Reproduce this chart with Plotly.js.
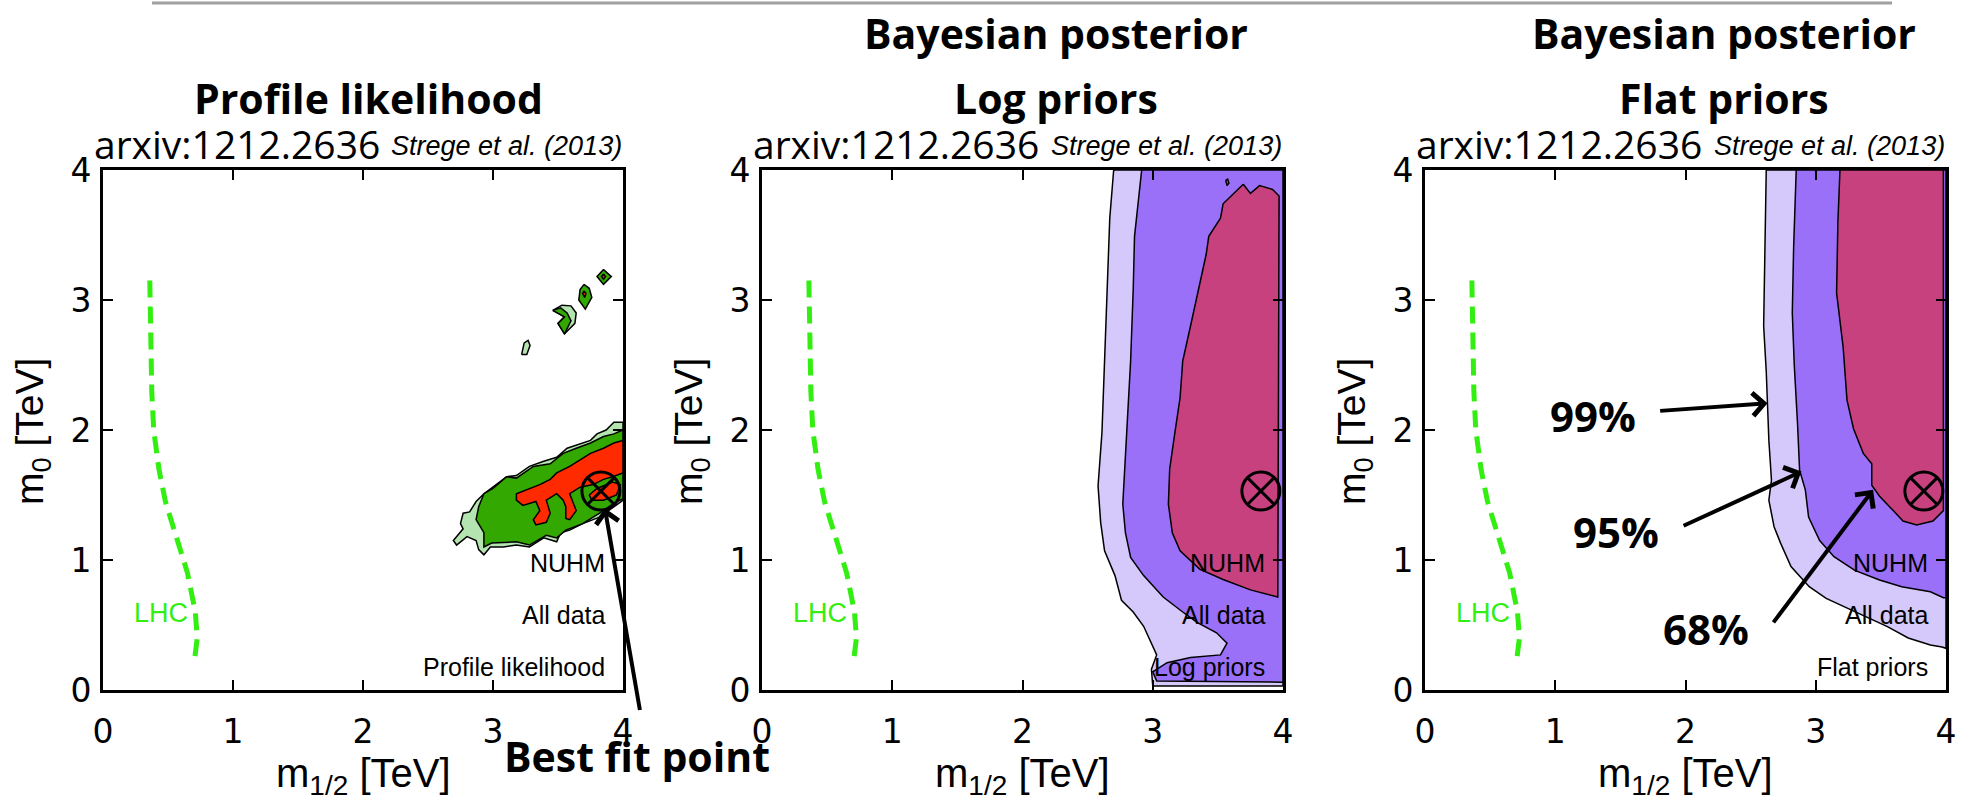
<!DOCTYPE html>
<html><head><meta charset="utf-8">
<script src="https://cdn.plot.ly/plotly-3.0.1.min.js"></script>
<style>html,body{margin:0;padding:0;background:#fff;}#chart{width:1973px;height:806px;}</style>
</head><body><div id="chart"></div>
<script>
// ---------- data ----------
const tickVals = [0, 1, 2, 3, 4];
const tickText = ['0', '1', '2', '3', '4'];

const lhcX = [0.36, 0.365, 0.375, 0.39, 0.43, 0.48, 0.56, 0.65, 0.71, 0.725, 0.70];
const lhcY = [3.15, 2.7, 2.3, 2.0, 1.7, 1.45, 1.2, 0.9, 0.6, 0.4, 0.2];

const bestFitX = [3.83];
const bestFitY = [1.53];

// Panel 1 : profile likelihood
const p1_99_x = [4.0,3.93,3.87,3.80,3.75,3.64,3.57,3.49,3.39,3.28,3.18,3.105,3.0,2.93,2.87,2.82,2.77,2.75,2.77,2.695,2.72,2.80,2.87,2.89,2.93,2.98,3.08,3.18,3.28,3.39,3.49,3.52,3.59,3.69,3.82,3.93,4.0];
const p1_99_y = [2.06,2.06,2.0,1.97,1.92,1.88,1.86,1.79,1.76,1.72,1.65,1.64,1.56,1.51,1.45,1.37,1.36,1.28,1.24,1.15,1.115,1.18,1.15,1.08,1.04,1.10,1.10,1.115,1.10,1.17,1.14,1.21,1.23,1.28,1.33,1.41,1.46];
const p1_95_x = [4.0,3.93,3.85,3.75,3.64,3.54,3.44,3.31,3.18,3.105,3.0,2.93,2.89,2.87,2.93,2.93,2.99,3.18,3.28,3.41,3.49,3.56,3.69,3.82,3.95,4.0];
const p1_95_y = [2.0,1.97,1.95,1.90,1.86,1.82,1.74,1.72,1.63,1.64,1.55,1.51,1.41,1.31,1.21,1.10,1.13,1.14,1.115,1.19,1.17,1.23,1.28,1.36,1.45,1.47];
const p1_68_x = [4.0,3.93,3.85,3.75,3.67,3.59,3.49,3.44,3.36,3.26,3.18,3.18,3.23,3.33,3.36,3.31,3.33,3.41,3.44,3.41,3.49,3.54,3.56,3.56,3.59,3.64,3.59,3.67,3.77,3.85,3.92,4.0];
const p1_68_y = [1.92,1.90,1.86,1.82,1.77,1.72,1.67,1.62,1.58,1.54,1.51,1.46,1.42,1.45,1.38,1.31,1.27,1.29,1.36,1.46,1.51,1.46,1.41,1.32,1.31,1.38,1.51,1.56,1.58,1.62,1.64,1.67];
const p1_68b_x = [3.74,3.80,3.92,3.98,3.95,3.85,3.76];
const p1_68b_y = [1.50,1.55,1.60,1.58,1.50,1.46,1.46];
const p1_islA_x = [3.22,3.24,3.27,3.285,3.26];
const p1_islA_y = [2.58,2.67,2.69,2.65,2.58];
const p1_chevL_x = [3.46,3.53,3.60,3.64,3.63,3.55,3.50,3.55];
const p1_chevL_y = [2.92,2.96,2.955,2.90,2.82,2.74,2.82,2.87];
const p1_chevG_x = [3.46,3.52,3.57,3.60,3.55,3.50,3.55];
const p1_chevG_y = [2.92,2.94,2.90,2.84,2.74,2.82,2.87];
const p1_dia1_x = [3.70,3.74,3.76,3.71,3.66,3.67];
const p1_dia1_y = [3.12,3.09,3.02,2.93,3.00,3.08];
const p1_dia1r_x = [3.70,3.715,3.705,3.69];
const p1_dia1r_y = [3.07,3.05,3.02,3.05];
const p1_dia2_x = [3.85,3.91,3.85,3.80];
const p1_dia2_y = [3.235,3.18,3.12,3.18];
const p1_dia2r_x = [3.85,3.865,3.85,3.835];
const p1_dia2r_y = [3.20,3.18,3.16,3.18];

// Panel 2 : Bayesian posterior, log priors
const p2_99_x = [2.70,2.67,2.65,2.63,2.61,2.58,2.60,2.63,2.71,2.76,2.85,2.93,2.98,3.03,2.99,3.00,4.0,4.0];
const p2_99_y = [4.0,3.63,3.08,2.53,1.98,1.57,1.29,1.07,0.88,0.69,0.60,0.49,0.38,0.27,0.16,0.03,0.03,4.0];
const p2_95_x = [2.915,2.90,2.86,2.85,2.83,2.80,2.77,2.79,2.83,2.93,3.08,3.23,3.34,3.49,3.57,3.52,3.29,3.11,3.00,3.03,4.0,4.0];
const p2_95_y = [4.0,3.85,3.49,3.08,2.53,1.98,1.43,1.21,1.02,0.88,0.715,0.60,0.52,0.44,0.36,0.27,0.25,0.21,0.14,0.07,0.06,4.0];
const p2_68_x = [3.695,3.62,3.54,3.52,3.465,3.43,3.41,3.36,3.29,3.23,3.21,3.17,3.13,3.12,3.15,3.21,3.36,3.54,3.75,3.96,3.97,3.92,3.82,3.75];
const p2_68_y = [3.89,3.82,3.74,3.63,3.55,3.49,3.35,3.13,2.80,2.53,2.25,1.98,1.70,1.43,1.21,1.07,0.93,0.85,0.77,0.715,3.80,3.85,3.88,3.82];
const p2_dot_x = [3.56,3.575,3.585,3.57];
const p2_dot_y = [3.92,3.93,3.90,3.88];

// Panel 3 : Bayesian posterior, flat priors
const p3_99_x = [2.62,2.61,2.60,2.62,2.63,2.64,2.66,2.64,2.68,2.73,2.81,2.95,3.08,3.22,3.38,3.55,3.71,3.88,3.97,4.0,4.0];
const p3_99_y = [4.0,3.4,2.8,2.45,2.205,1.92,1.615,1.46,1.256,1.13,0.95,0.795,0.705,0.64,0.564,0.487,0.40,0.346,0.33,0.32,4.0];
const p3_95_x = [2.85,2.83,2.82,2.835,2.86,2.876,2.92,2.945,3.03,3.14,3.30,3.49,3.66,3.88,3.98,4.0,4.0];
const p3_95_y = [4.0,3.4,2.9,2.5,2.05,1.69,1.54,1.33,1.15,1.025,0.92,0.846,0.795,0.756,0.71,0.71,4.0];
const p3_68_x = [3.186,3.17,3.16,3.21,3.24,3.29,3.365,3.43,3.43,3.49,3.595,3.67,3.775,3.90,3.98,3.98];
const p3_68_y = [4.0,3.60,3.055,2.64,2.23,2.01,1.82,1.74,1.575,1.49,1.38,1.30,1.27,1.30,1.38,4.0];

const panelTitles = [['Profile likelihood'], ['Bayesian posterior', 'Log priors'], ['Bayesian posterior', 'Flat priors']];
const innerLabels = [['NUHM', 'All data', 'Profile likelihood'], ['NUHM', 'All data', 'Log priors'], ['NUHM', 'All data', 'Flat priors']];
const innerLabelY = [0.98, 0.58, 0.18];
const levelText = ['99%', '95%', '68%'];
const levelTextX = [1.29, 1.47, 2.16];
const levelTextY = [2.11, 1.22, 0.47];
const levelTailX = [1.79, 1.97, 2.66];
const levelTailY = [2.146, 1.256, 0.50];
const levelTipX = [2.63, 2.89, 3.44];
const levelTipY = [2.205, 1.68, 1.54];
const bestArrowTip = [3.86, 1.40];
const bestArrowTail = [4.134, -0.177];

// ---------- styling ----------
const C_LG = '#b4e4b0', C_G = '#33a800', C_R = '#ff2a00';
const C_L99 = '#d5c9fb', C_L95 = '#9a70f8', C_L68 = '#c8417f';
const C_LHC = '#33ee11';
const W = 1973, H = 806;
const px = v => v / W, py = v => 1 - v / H;
const panels = [{l: 103, r: 623}, {l: 762, r: 1283}, {l: 1425, r: 1946}];
const yTop = 170, yBot = 690;
const sansF = 'Liberation Sans, Arial, sans-serif';
const tickF = 'DejaVu Sans, sans-serif';
const titleF = 'Open Sans, sans-serif';

const traces = [];
function ax(k) { return k === 1 ? '' : String(k); }
function poly(x, y, color, k) {
  traces.push({type: 'scatter', mode: 'lines', x: x.concat([x[0]]), y: y.concat([y[0]]),
    fill: 'toself', fillcolor: color, line: {color: '#000', width: 1.5},
    xaxis: 'x' + ax(k), yaxis: 'y' + ax(k), hoverinfo: 'skip', showlegend: false});
}
function lhc(k) {
  traces.push({type: 'scatter', mode: 'lines', x: lhcX, y: lhcY,
    line: {color: C_LHC, width: 5, dash: '17px,9px'},
    xaxis: 'x' + ax(k), yaxis: 'y' + ax(k), hoverinfo: 'skip', showlegend: false});
}
function best(k) {
  traces.push({type: 'scatter', mode: 'markers', x: bestFitX, y: bestFitY,
    marker: {symbol: 'circle-x-open', size: 38, color: '#000', line: {width: 3, color: '#000'}},
    xaxis: 'x' + ax(k), yaxis: 'y' + ax(k), hoverinfo: 'skip', showlegend: false});
}

// panel 1
poly(p1_99_x, p1_99_y, C_LG, 1);
poly(p1_95_x, p1_95_y, C_G, 1);
poly(p1_68_x, p1_68_y, C_R, 1);
poly(p1_68b_x, p1_68b_y, C_R, 1);
poly(p1_islA_x, p1_islA_y, C_LG, 1);
poly(p1_chevL_x, p1_chevL_y, C_LG, 1);
poly(p1_chevG_x, p1_chevG_y, C_G, 1);
poly(p1_dia1_x, p1_dia1_y, C_G, 1);
poly(p1_dia1r_x, p1_dia1r_y, C_R, 1);
poly(p1_dia2_x, p1_dia2_y, C_G, 1);
poly(p1_dia2r_x, p1_dia2r_y, C_R, 1);
lhc(1); best(1);
// panel 2
poly(p2_99_x, p2_99_y, C_L99, 2);
poly(p2_95_x, p2_95_y, C_L95, 2);
poly(p2_68_x, p2_68_y, C_L68, 2);
poly(p2_dot_x, p2_dot_y, C_L68, 2);
lhc(2); best(2);
// panel 3
poly(p3_99_x, p3_99_y, C_L99, 3);
poly(p3_95_x, p3_95_y, C_L95, 3);
poly(p3_68_x, p3_68_y, C_L68, 3);
lhc(3); best(3);

function axis(dom, anchor) {
  return {domain: dom, anchor: anchor, range: [0, 4], tickmode: 'array', tickvals: tickVals, ticktext: tickText,
    ticks: 'inside', ticklen: 10, tickwidth: 2, tickcolor: '#000', showline: true, linewidth: 3, linecolor: '#000',
    mirror: 'ticks', showgrid: false, zeroline: false, fixedrange: true,
    tickfont: {family: tickF, size: 33, color: '#000'}};
}

const layout = {width: W, height: H, margin: {l: 0, r: 0, t: 0, b: 0}, paper_bgcolor: '#fff', plot_bgcolor: '#fff',
  showlegend: false, annotations: [], shapes: []};
const yDom = [1 - yBot / H, 1 - yTop / H];
panels.forEach((p, i) => {
  const s = ax(i + 1);
  layout['xaxis' + s] = axis([px(p.l), px(p.r)], 'y' + s);
  layout['yaxis' + s] = axis(yDom, 'x' + s);
  layout['xaxis' + s].ticklabelstandoff = 10;
  layout['yaxis' + s].ticklabelstandoff = 2;
});

layout.shapes.push({type: 'line', xref: 'paper', yref: 'paper', x0: px(152), x1: px(1892), y0: py(3), y1: py(3),
  line: {color: '#a0a0a0', width: 3}});

const A = layout.annotations;
function txt(o) { A.push(Object.assign({showarrow: false}, o)); }
function arrow(k, tip, tail) {
  const s = ax(k);
  A.push({xref: 'x' + s, yref: 'y' + s, axref: 'x' + s, ayref: 'y' + s, x: tip[0], y: tip[1], ax: tail[0], ay: tail[1],
    text: '&nbsp;', font: {size: 2}, showarrow: true, arrowhead: 4, arrowsize: 1.1, arrowwidth: 4, arrowcolor: '#000'});
}
const titleCx = [368, 1056, 1724];
const boldF = {family: titleF, size: 41, weight: 700, color: '#000'};
panels.forEach((p, i) => {
  const s = ax(i + 1);
  const t = panelTitles[i];
  if (t.length === 2) {
    txt({xref: 'paper', yref: 'paper', x: px(titleCx[i]), y: py(33), xanchor: 'center', yanchor: 'middle', text: t[0], font: boldF});
  }
  txt({xref: 'paper', yref: 'paper', x: px(titleCx[i]), y: py(98), xanchor: 'center', yanchor: 'middle', text: t[t.length - 1], font: boldF});
  txt({xref: 'paper', yref: 'paper', x: px(p.l - 11), y: py(143), xanchor: 'left', yanchor: 'middle', text: 'arxiv:1212.2636',
    font: {family: titleF, size: 39, color: '#000'}});
  txt({xref: 'paper', yref: 'paper', x: px(p.r + 1), y: py(146), xanchor: 'right', yanchor: 'middle', text: 'Strege et al. (2013)',
    font: {family: sansF, size: 27, style: 'italic', color: '#000'}});
  txt({xref: 'paper', yref: 'paper', x: px((p.l + p.r) / 2), y: py(776), xanchor: 'center', yanchor: 'middle',
    text: 'm<sub>1/2</sub> [TeV]', font: {family: sansF, size: 40, color: '#000'}});
  txt({xref: 'paper', yref: 'paper', x: px(p.l - 70), y: py(432), xanchor: 'center', yanchor: 'middle', textangle: -90,
    text: 'm<sub>0</sub> [TeV]', font: {family: sansF, size: 39, color: '#000'}});
  innerLabels[i].forEach((lab, j) => {
    txt({xref: 'x' + s, yref: 'y' + s, x: 3.88, y: innerLabelY[j], xanchor: 'right', yanchor: 'middle', text: lab,
      font: {family: sansF, size: 25, color: '#000'}});
  });
  txt({xref: 'x' + s, yref: 'y' + s, x: 0.446, y: 0.59, xanchor: 'center', yanchor: 'middle', text: 'LHC',
    font: {family: sansF, size: 27, color: C_LHC}});
});

// best fit arrow (panel 1)
arrow(1, bestArrowTip, bestArrowTail);
txt({xref: 'paper', yref: 'paper', x: px(637), y: py(756), xanchor: 'center', yanchor: 'middle', text: 'Best fit point', font: boldF});

// confidence level arrows (panel 3)
levelText.forEach((t, i) => {
  txt({xref: 'x3', yref: 'y3', x: levelTextX[i], y: levelTextY[i], xanchor: 'center', yanchor: 'middle', text: t,
    font: {family: titleF, size: 42, weight: 700, color: '#000'}});
  arrow(3, [levelTipX[i], levelTipY[i]], [levelTailX[i], levelTailY[i]]);
});

Plotly.newPlot('chart', traces, layout, {staticPlot: true, displayModeBar: false});
</script></body></html>
